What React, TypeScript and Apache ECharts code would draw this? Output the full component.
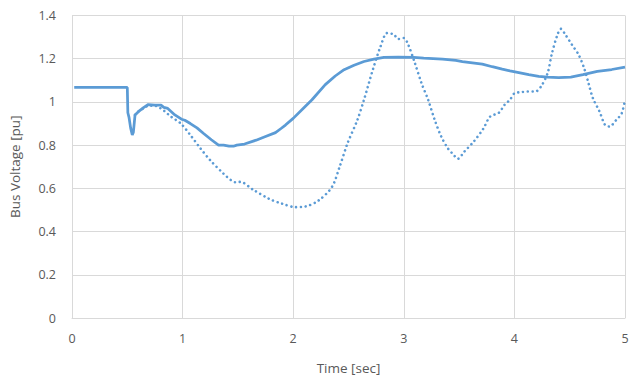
import React, { useEffect, useRef } from "react";
import * as echarts from "echarts";

const xTicks = [0, 1, 2, 3, 4, 5];
const yTicks = [0, 0.2, 0.4, 0.6, 0.8, 1, 1.2, 1.4];

const solidT = [0.02, 0.5, 0.505, 0.515, 0.53, 0.545, 0.555, 0.57, 0.6, 0.65, 0.69, 0.75, 0.805, 0.83, 0.866, 0.93, 0.99, 1.02, 1.07, 1.13, 1.19, 1.26, 1.325, 1.37, 1.42, 1.46, 1.49, 1.56, 1.665, 1.75, 1.84, 1.89, 1.93, 2.0, 2.09, 2.17, 2.29, 2.38, 2.46, 2.55, 2.64, 2.73, 2.82, 2.95, 3.09, 3.18, 3.35, 3.47, 3.53, 3.71, 3.8, 3.89, 3.96, 4.04, 4.13, 4.22, 4.3, 4.4, 4.51, 4.62, 4.75, 4.88, 5.0];
const solidV = [1.067, 1.067, 0.95, 0.93, 0.88, 0.847, 0.86, 0.94, 0.955, 0.975, 0.988, 0.985, 0.985, 0.975, 0.97, 0.94, 0.92, 0.915, 0.9, 0.88, 0.854, 0.825, 0.8, 0.8, 0.795, 0.795, 0.8, 0.805, 0.823, 0.84, 0.858, 0.877, 0.893, 0.924, 0.97, 1.01, 1.08, 1.12, 1.149, 1.17, 1.187, 1.198, 1.206, 1.207, 1.206, 1.203, 1.198, 1.192, 1.187, 1.175, 1.163, 1.152, 1.144, 1.136, 1.126, 1.118, 1.115, 1.113, 1.115, 1.126, 1.141, 1.15, 1.161];

const dotT = [0.57, 0.6, 0.65, 0.69, 0.75, 0.777, 0.83, 0.895, 0.984, 1.07, 1.16, 1.25, 1.37, 1.44, 1.48, 1.52, 1.64, 1.78, 1.9, 2.02, 2.11, 2.23, 2.35, 2.42, 2.49, 2.58, 2.64, 2.72, 2.79, 2.85, 2.91, 2.95, 3.0, 3.04, 3.1, 3.16, 3.22, 3.28, 3.34, 3.4, 3.44, 3.49, 3.545, 3.63, 3.72, 3.78, 3.86, 3.91, 3.96, 4.0, 4.06, 4.12, 4.19, 4.24, 4.3, 4.34, 4.39, 4.42, 4.46, 4.52, 4.58, 4.63, 4.67, 4.71, 4.77, 4.82, 4.86, 4.92, 4.97, 5.0];
const dotV = [0.94, 0.955, 0.972, 0.982, 0.982, 0.978, 0.96, 0.932, 0.9, 0.847, 0.786, 0.73, 0.668, 0.637, 0.628, 0.63, 0.593, 0.552, 0.529, 0.513, 0.516, 0.544, 0.606, 0.7, 0.807, 0.916, 1.01, 1.149, 1.257, 1.319, 1.312, 1.291, 1.296, 1.265, 1.18, 1.087, 1.01, 0.916, 0.838, 0.784, 0.761, 0.737, 0.769, 0.815, 0.877, 0.932, 0.95, 0.986, 1.01, 1.04, 1.045, 1.048, 1.048, 1.071, 1.133, 1.226, 1.312, 1.338, 1.312, 1.265, 1.219, 1.157, 1.087, 1.017, 0.955, 0.893, 0.886, 0.916, 0.947, 1.01];

const COLOR = "#5B9BD5";
const FONT = "'Open Sans', 'Noto Sans', sans-serif";

export default function App() {
  const ref = useRef<HTMLDivElement>(null);
  useEffect(() => {
    if (!ref.current) return;
    const chart = echarts.init(ref.current, undefined, { renderer: "svg" });
    chart.setOption({
      animation: false,
      backgroundColor: "#ffffff",
      grid: { left: 61, right: 13, top: 15.5, bottom: 64, containLabel: false },
      xAxis: {
        type: "value",
        min: xTicks[0],
        max: xTicks[xTicks.length - 1],
        interval: 1,
        name: "Time [sec]",
        nameLocation: "middle",
        nameGap: 43,
        nameTextStyle: { color: "#595959", fontSize: 13.5, fontFamily: FONT },
        axisLine: { show: true, lineStyle: { color: "#D9D9D9", width: 1 } },
        axisTick: { show: false },
        axisLabel: { color: "#595959", fontSize: 12.5, fontFamily: FONT, margin: 14 },
        splitLine: { show: true, lineStyle: { color: "#D9D9D9", width: 1 } },
      },
      yAxis: {
        type: "value",
        min: yTicks[0],
        max: yTicks[yTicks.length - 1],
        interval: 0.2,
        name: "Bus Voltage [pu]",
        nameLocation: "middle",
        nameGap: 50,
        nameRotate: 90,
        nameTextStyle: { color: "#595959", fontSize: 13.5, fontFamily: FONT },
        axisLine: { show: false },
        axisTick: { show: false },
        axisLabel: {
          color: "#595959",
          fontSize: 12.5,
          fontFamily: FONT,
          margin: 16,
          formatter: (v: number) => String(Math.round(v * 10) / 10),
        },
        splitLine: { show: true, lineStyle: { color: "#D9D9D9", width: 1 } },
      },
      series: [
        {
          type: "line",
          data: dotT.map((t, i) => [t, dotV[i]]),
          showSymbol: false,
          smooth: 0.3,
          lineStyle: { color: COLOR, width: 2.6, type: [0.01, 4.8], cap: "round" },
          z: 2,
        },
        {
          type: "line",
          data: solidT.map((t, i) => [t, solidV[i]]),
          showSymbol: false,
          lineStyle: { color: COLOR, width: 2.75 },
          z: 3,
        },
      ],
    });
    return () => chart.dispose();
  }, []);
  return <div ref={ref} style={{ width: 638, height: 382, position: "absolute", left: 0, top: 0 }} />;
}
